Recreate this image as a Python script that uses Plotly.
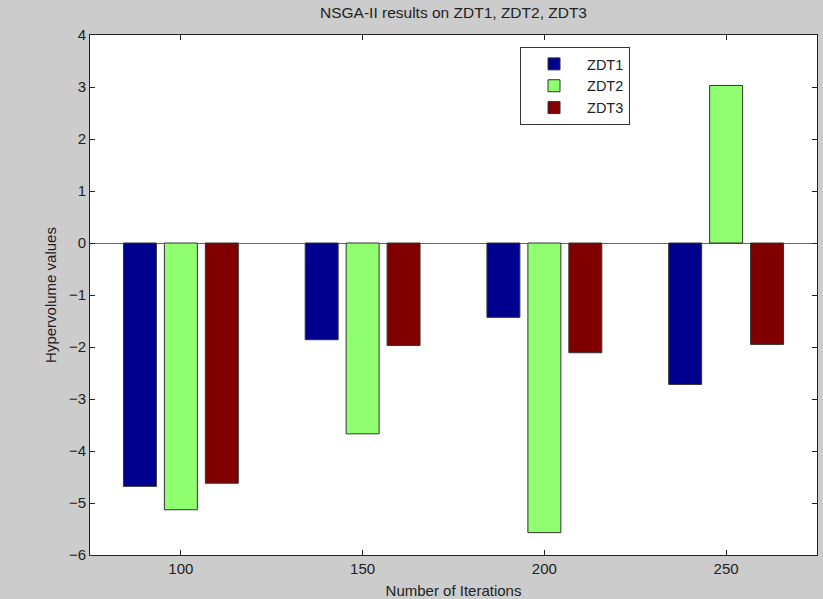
import plotly.graph_objects as go

iterations = [100, 150, 200, 250]
zdt1 = [-4.68, -1.86, -1.43, -2.72]
zdt2 = [-5.13, -3.67, -5.57, 3.03]
zdt3 = [-4.62, -1.97, -2.11, -1.95]
series_names = ["ZDT1", "ZDT2", "ZDT3"]
colors = ["#00008f", "#8fff6f", "#800000"]

fig = go.Figure()
for name, vals, col in zip(series_names, [zdt1, zdt2, zdt3], colors):
    fig.add_trace(go.Bar(
        x=iterations, y=vals, name=name,
        marker=dict(color=col, line=dict(color="#333333", width=1)),
    ))

FAM = "Liberation Sans, Arial, sans-serif"
axis_font = dict(family=FAM, size=15, color="#222222")

fig.update_layout(
    width=823, height=599,
    paper_bgcolor="#cccccc",
    plot_bgcolor="white",
    barmode="group",
    bargap=0.324,
    bargroupgap=0.195,
    margin=dict(l=90, r=6, t=35, b=44),
    title=dict(text="NSGA-II results on ZDT1, ZDT2, ZDT3", xref="paper", x=0.5, xanchor="center",
               y=1 - 13 / 599, yanchor="middle",
               font=dict(family=FAM, size=15.5, color="#222222")),
    font=axis_font,
    showlegend=True,
    legend=dict(x=0.5915, y=0.977, xanchor="left", yanchor="top",
                bgcolor="white", bordercolor="#333333", borderwidth=1,
                font=dict(family=FAM, size=14.5, color="#222222"),
                itemwidth=56),
    xaxis=dict(
        range=[75, 275], tickvals=iterations, ticktext=[str(v) for v in iterations],
        ticks="inside", ticklen=5, tickcolor="#222222",
        showline=True, linecolor="#222222", linewidth=1, mirror="ticks",
        showgrid=False, zeroline=False, tickfont=axis_font, automargin=False,
        title=dict(text="Number of Iterations", standoff=9, font=axis_font),
    ),
    yaxis=dict(
        range=[-6, 4], dtick=1, tick0=0,
        ticks="inside", ticklen=5, tickcolor="#222222",
        showline=True, linecolor="#222222", linewidth=1, mirror="ticks",
        showgrid=False, zeroline=True, zerolinecolor="#666666", zerolinewidth=1,
        tickfont=axis_font, automargin=False,
        title=dict(text="Hypervolume values", standoff=8, font=axis_font),
    ),
)

fig.write_html(
    "out.html",
    config={"displayModeBar": False},
    post_script="document.body.style.margin='0';document.body.style.overflow='hidden';document.body.style.background='#cccccc';",
)
